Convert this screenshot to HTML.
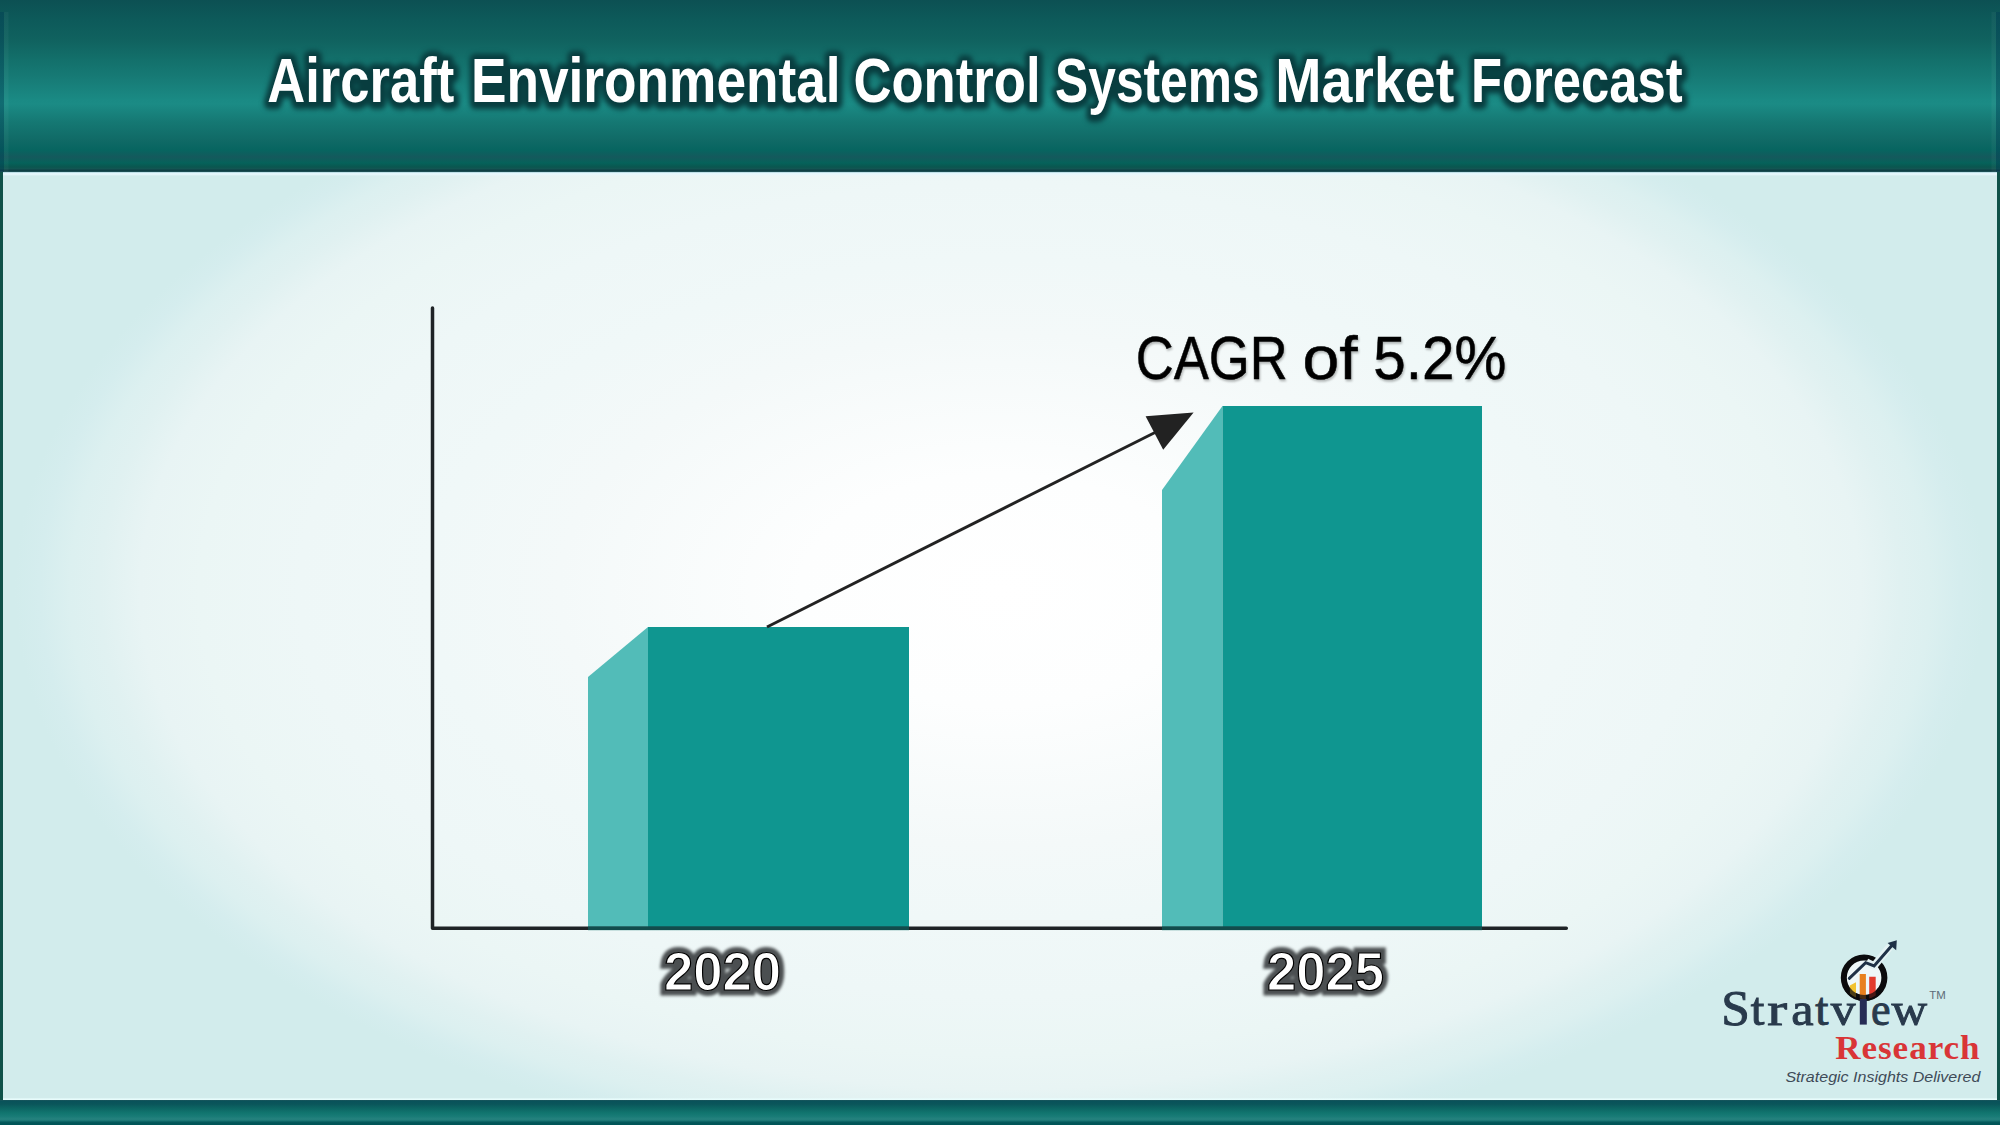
<!DOCTYPE html>
<html>
<head>
<meta charset="utf-8">
<title>Aircraft Environmental Control Systems Market Forecast</title>
<style>
  html, body { margin: 0; padding: 0; }
  body { width: 2000px; height: 1125px; overflow: hidden; background: #d2ecec; font-family: "Liberation Sans", sans-serif; }
  #stage { position: absolute; left: 0; top: 0; width: 2000px; height: 1125px; overflow: hidden; }
  #content { position: absolute; left: 0; top: 172px; width: 2000px; height: 928px;
    background: radial-gradient(ellipse 1000px 580px at 1000px 418px, #ffffff 0%, #fdfefe 20%, #f4f9f9 44%, #f0f8f8 57%, #eef7f7 70%, #ebf6f5 80%, #e8f4f4 86%, #e0f1f1 90%, #dcf0f0 93%, #d5edee 96%, #d2ecec 98.5%, #d2ecec 100%); }
  #lborder { position: absolute; left: 0; top: 172px; width: 3px; height: 928px; background: #0f5249; }
  #rborder { position: absolute; left: 1997px; top: 172px; width: 3px; height: 928px; background: #0f5249; }
  #header { position: absolute; left: 0; top: 0; width: 2000px; height: 172px;
    background: linear-gradient(to bottom, #0c5053 0px, #0d5a5a 20px, #10625f 40px, #13706b 60px, #177c77 80px, #1a8a84 100px, #1b8b85 104px, #157873 122px, #106a66 140px, #076560 150px, #14595c 157px, #05625a 163px, #0a564f 167px, #145553 169px, #0e3f44 170px, #0e3f44 171.3px, #3f7378 172px); }
  #topline { position: absolute; left: 3px; top: 172px; width: 1994px; height: 4px; background: linear-gradient(to bottom, rgba(160,205,215,0.9) 0px, rgba(228,247,253,0.95) 1.2px, rgba(232,248,253,0.8) 2.5px, rgba(232,248,253,0) 4px); }
  #hl { position: absolute; left: 0; top: 12px; width: 9px; height: 160px; background: linear-gradient(to right, rgba(0,60,85,0.40) 0px, rgba(0,60,85,0.40) 3.5px, rgba(255,255,255,0.035) 4.5px, rgba(255,255,255,0.035) 8px, rgba(255,255,255,0) 9px); }
  #hr { position: absolute; left: 1991px; top: 12px; width: 9px; height: 160px; background: linear-gradient(to left, rgba(0,60,85,0.40) 0px, rgba(0,60,85,0.40) 3.5px, rgba(255,255,255,0.035) 4.5px, rgba(255,255,255,0.035) 8px, rgba(255,255,255,0) 9px); }
  #footer { position: absolute; left: 0; top: 1100px; width: 2000px; height: 25px;
    background: linear-gradient(to bottom, #1d565c 0px, #09525a 1.2px, #0a555a 4px, #0c6563 8.2px, #11756f 13px, #187b76 16.2px, #25827e 19px, #1f7c79 20.2px, #0c6465 21.6px, #005557 22.8px, #005557 25px); }
  #botline { position: absolute; left: 3px; top: 1097.6px; width: 1994px; height: 2.4px; background: linear-gradient(to bottom, rgba(232,252,252,0) 0px, rgba(232,252,252,0.95) 0.8px, rgba(232,252,252,0.95) 2.4px); }
  .yr { position: absolute; white-space: nowrap; color: #fff; font-size: 54px; line-height: 60px; font-weight: bold; transform-origin: 0 0; transform: scaleX(0.975);
    -webkit-text-stroke: 1.2px #000; }
  .yrg { position: absolute; white-space: nowrap; color: #4b4f51; font-size: 54px; line-height: 60px; font-weight: bold; transform-origin: 0 0; transform: scaleX(0.975);
    -webkit-text-stroke: 11px #4b4f51; stroke-linejoin: round; filter: blur(1.8px); }
  .p1 { left: 664px; top: 941px; }
  .p2 { left: 1267px; top: 941px; }
  svg { position: absolute; left: 0; top: 0; }
</style>
</head>
<body>
<div id="stage">
  <div id="content"></div>
  <div id="lborder"></div>
  <div id="rborder"></div>
  <div id="header"></div>
  <div id="topline"></div>
  <div id="hl"></div>
  <div id="hr"></div>
  <div id="footer"></div>
  <div id="botline"></div>

  <svg width="2000" height="1125" viewBox="0 0 2000 1125">
    <!-- bars -->
    <polygon points="588,677 648,627 648,928 588,928" fill="#52bcb8"/>
    <rect x="648" y="627" width="261" height="301" fill="#0f9690"/>
    <polygon points="1162,490 1222.5,406 1222.5,928 1162,928" fill="#52bcb8"/>
    <rect x="1222.5" y="406" width="259.5" height="522" fill="#0f9690"/>
    <!-- axes -->
    <polyline points="432.5,308 432.5,928.3 1566.3,928.3" fill="none" stroke="#1e2326" stroke-width="3.5" stroke-linecap="round" stroke-linejoin="round"/>
    <rect x="588" y="926.4" width="321" height="3.9" fill="#0a6f6c" opacity="0.55"/>
    <rect x="1162" y="926.4" width="320" height="3.9" fill="#0a6f6c" opacity="0.55"/>
    <!-- trend arrow -->
    <line x1="767" y1="627" x2="1160" y2="430" stroke="#222" stroke-width="3"/>
    <polygon points="1193.6,412.5 1145.6,416.3 1163.2,449.8" fill="#222"/>
    <!-- title -->
    <g font-family="Liberation Sans, sans-serif" font-size="63" font-weight="bold">
      <g fill="#083d3f" stroke="#083d3f" stroke-width="12.5" stroke-linejoin="round" transform="translate(0.5 1)" style="filter: blur(2.4px);">
      <text transform="translate(267.15 102) scale(0.835 1)">Aircraft</text>
      <text transform="translate(470.91 102) scale(0.845 1)">Environmental</text>
      <text transform="translate(853.41 102) scale(0.836 1)">Control</text>
      <text transform="translate(1055.12 102) scale(0.789 1)">Systems</text>
      <text transform="translate(1275.25 102) scale(0.881 1)">Market</text>
      <text transform="translate(1471.08 102) scale(0.806 1)">Forecast</text>
      </g>
      <g fill="#ffffff">
      <text transform="translate(267.15 102) scale(0.835 1)">Aircraft</text>
      <text transform="translate(470.91 102) scale(0.845 1)">Environmental</text>
      <text transform="translate(853.41 102) scale(0.836 1)">Control</text>
      <text transform="translate(1055.12 102) scale(0.789 1)">Systems</text>
      <text transform="translate(1275.25 102) scale(0.881 1)">Market</text>
      <text transform="translate(1471.08 102) scale(0.806 1)">Forecast</text>
      </g>
    </g>
    <!-- CAGR label -->
    <g font-family="Liberation Sans, sans-serif" font-size="61.5" fill="#000" stroke="#000" stroke-width="0.5" style="filter: drop-shadow(1px 2px 1.2px rgba(0,0,0,0.28));">
      <text transform="translate(1135.73 379) scale(0.855 1)">CAGR</text>
      <text transform="translate(1302.59 379) scale(1.075 1)">of</text>
      <text transform="translate(1373.21 379) scale(0.950 1)">5.2%</text>
    </g>
    <!-- logo -->
    <g id="logo">
      <g font-family="Liberation Serif, serif" fill="#293a4c" stroke="#293a4c" stroke-width="0.95">
      <text font-size="50" transform="translate(1721.31 1025.3) scale(1.028 1)">S</text>
      <text font-size="47" transform="translate(1750.83 1025.3) scale(1.045 1)">t</text>
      <text font-size="47" transform="translate(1767.2 1025.3) scale(1.27 1)">r</text>
      <text font-size="47" transform="translate(1791.18 1025.3) scale(1.070 1)">a</text>
      <text font-size="47" transform="translate(1815.34 1025.3) scale(1.012 1)">t</text>
      <text font-size="47" transform="translate(1830.65 1025.3) scale(1.055 1)">v</text>
      <text font-size="47" transform="translate(1871.11 1025.3) scale(0.937 1)">e</text>
      <text font-size="47" transform="translate(1891.55 1025.3) scale(1.049 1)">w</text>
      </g>
      <!-- magnifier -->
      <circle cx="1864.1" cy="977.8" r="17.5" fill="#eef7f8"/>
      <circle cx="1864.1" cy="977.8" r="20.3" fill="none" stroke="#0b0b0d" stroke-width="6"/>
      <polygon points="1849.9,985.5 1856,982.2 1856,997.4 1853,995.9 1849.9,993.5" fill="#f2c230"/>
      <polygon points="1859.7,973.9 1865.9,973.9 1865.9,998.9 1862.8,999 1859.7,998.5" fill="#e8801e"/>
      <polygon points="1869.2,976.7 1875.7,976.7 1875.7,995.5 1872.5,997.3 1869.2,998.4" fill="#e23b2e"/>
      <path d="M 1847.6 989.6 A 20.3 20.3 0 0 0 1880.6 989.6" fill="none" stroke="#0b0b0d" stroke-width="6" opacity="0.72"/>
      <rect x="1859.8" y="999" width="7" height="25.6" fill="#262c55"/>
      <!-- arrow halo + arrow -->
      <polyline points="1866.5,962.2 1874.1,965.9 1890,946.5" fill="none" stroke="#e3f2f3" stroke-width="7.5" stroke-linejoin="round"/>
      <polyline points="1849.3,978.3 1865.7,962.7 1874.1,965.9 1892.5,944.8" fill="none" stroke="#1f3146" stroke-width="3" stroke-linejoin="miter" stroke-linecap="round"/>
      <polygon points="1896.8,940.3 1887.6,942.9 1896.2,950.2" fill="#1f3146"/>
      <text x="1929.3" y="999.4" font-family="Liberation Sans, sans-serif" font-size="10.5" fill="#5d6b78" textLength="16.5" lengthAdjust="spacingAndGlyphs">TM</text>
      <text transform="translate(1835.2 1058.6) scale(1.045 1)" font-family="Liberation Serif, serif" font-weight="bold" font-size="33.6" fill="#d93537" letter-spacing="0.9">Research</text>
      <text x="1785.4" y="1081.9" font-family="Liberation Sans, sans-serif" font-style="italic" font-size="14.6" fill="#3f4b58" textLength="195" lengthAdjust="spacingAndGlyphs">Strategic Insights Delivered</text>
    </g>
  </svg>

  <div class="yrg p1">2020</div>
  <div class="yrg p2">2025</div>
  <div class="yr p1">2020</div>
  <div class="yr p2">2025</div>
</div>
</body>
</html>
